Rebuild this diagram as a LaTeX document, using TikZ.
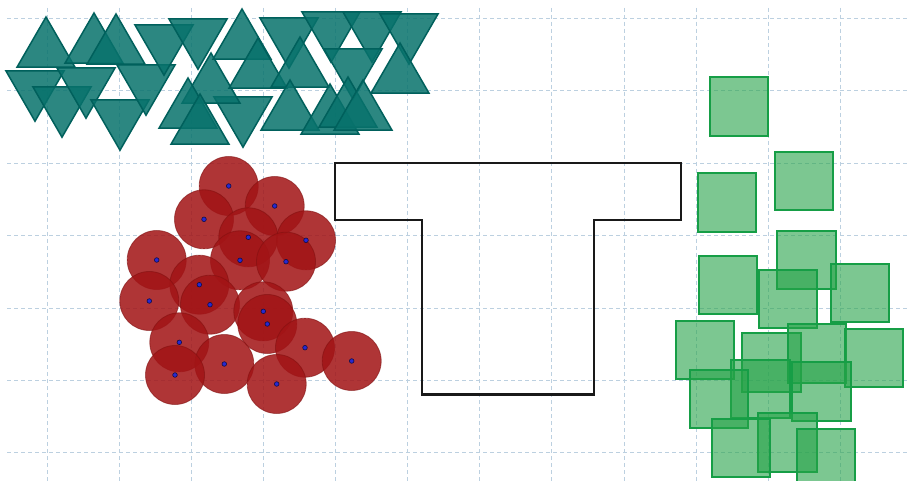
\documentclass[tikz,border=0pt]{standalone}
\definecolor{gridc}{RGB}{188,208,224}
\definecolor{tealf}{RGB}{8,114,108}
\definecolor{teald}{RGB}{0,96,92}
\definecolor{redf}{RGB}{162,20,22}
\definecolor{redd}{RGB}{130,16,16}
\definecolor{dotf}{RGB}{40,40,210}
\definecolor{dotd}{RGB}{15,15,70}
\definecolor{greenf}{RGB}{38,163,72}
\definecolor{greend}{RGB}{22,158,70}
\tikzset{
 gridline/.style={draw=gridc, line width=0.6pt, dash pattern=on 4pt off 3pt},
 tri/.style={fill=tealf, fill opacity=0.85, draw=teald, line width=1.5pt, line join=miter},
 disc/.style={fill=redf, fill opacity=0.86, draw=redd, draw opacity=0.6, line width=0.8pt},
 centre/.style={fill=dotf, draw=dotd, line width=0.6pt},
 sq/.style={fill=greenf, fill opacity=0.6, draw=greend, line width=2pt},
 tshape/.style={draw=black!90, line width=2.4pt, line join=miter}
}
\begin{document}
\begin{tikzpicture}[x=1pt,y=-1pt]
\useasboundingbox (0,0) rectangle (908,481);
\fill[white] (0,0) rectangle (908,481);
% grid
\foreach \k in {0,...,11} \draw[gridline] ({47+72.1*\k},8) -- ({47+72.1*\k},481);
\foreach \k in {0,...,6} \draw[gridline] (7,{18.2+72.4*\k}) -- (908,{18.2+72.4*\k});
% teal triangles: pointing down (centre x, top edge y)
\foreach \cx/\ty in {35/71, 62/87, 86/68, 120/100, 146/65, 164/25, 198/19, 243/97, 289/18, 331/12, 372/12, 409/14, 353/49}
  \draw[tri] (\cx-29,\ty) -- (\cx+29,\ty) -- (\cx,\ty+50.2) -- cycle;
% teal triangles: pointing up (centre x, apex y)
\foreach \cx/\ay in {46/17, 94/13, 116/14, 211/53, 188/78, 200/94, 242/9, 258/38, 300/37, 290/80, 330/84, 348/77, 363/80, 400/43}
  \draw[tri] (\cx,\ay) -- (\cx+29,\ay+50.2) -- (\cx-29,\ay+50.2) -- cycle;
% red discs
\def\centres{228.7/186, 274.7/206, 204/219.3, 248.3/237.3, 306/240.3, 156.7/260, 240/260.3, 286/261.7, 199.3/284.7, 149.3/301, 210/304.7, 263.3/311.3, 267.3/324, 179.3/342.3, 305/347.7, 351.7/361, 224.3/364, 175/375, 276.7/384}
\foreach \x/\y in \centres \draw[disc] (\x,\y) circle[radius=29.5pt];
\foreach \x/\y in \centres \draw[centre] (\x,\y) circle[radius=2.3pt];
% T outline
\draw[tshape] (335,163.3) -- (681,163.3) -- (681,220.3) -- (594,220.3) -- (594,394.3) -- (421.7,394.3) -- (421.7,220.3) -- (335,220.3) -- cycle;
% green squares
\foreach \a/\b in {710/77.3, 775/151.7, 697.7/173.3, 777.3/231, 699/255.7, 759/269.7, 830.7/263.7, 676/320.7, 742.3/333.3, 787.7/324.3, 845/329, 731.3/360, 792.3/362.3, 690/370, 758.3/413.3, 711.7/419, 796.7/429.3}
  \draw[sq] (\a,\b) rectangle ++(58.4,58.4);
\end{tikzpicture}
\end{document}
